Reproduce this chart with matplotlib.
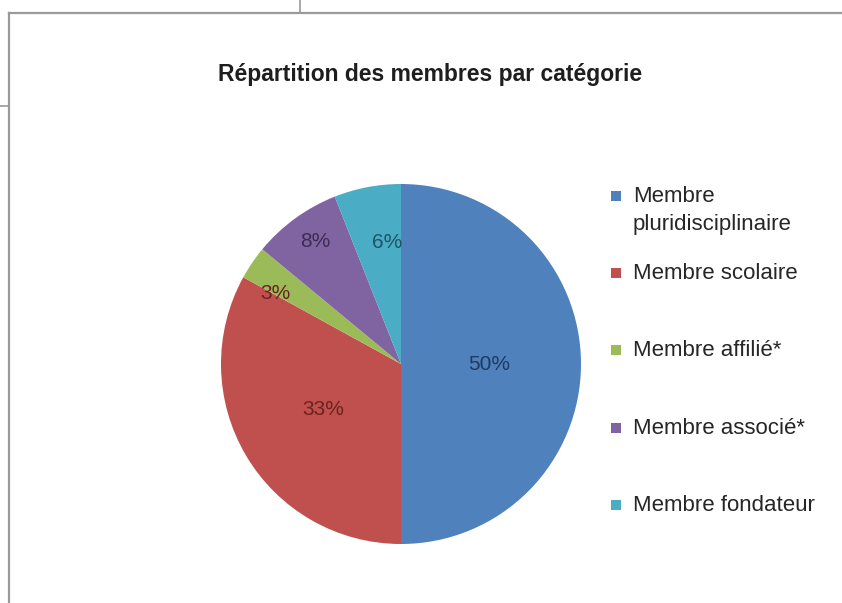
import matplotlib
matplotlib.use("Agg")
import numpy as np
from matplotlib import pyplot as plt
from matplotlib.lines import Line2D
from matplotlib.patches import Rectangle

plt.rcParams["font.family"] = ["Liberation Sans", "DejaVu Sans"]

# données du graphique
categories = ["Membre\npluridisciplinaire", "Membre scolaire", "Membre affilié*",
              "Membre associé*", "Membre fondateur"]
parts = [50, 33, 3, 8, 6]
title = "Répartition des membres par catégorie"

# style (couleurs Excel)
colors = ["#4F81BD", "#C0504D", "#9BBB59", "#8064A2", "#4BACC6"]
label_colors = ["#1F3A60", "#6A2220", "#6A2220", "#3C2C55", "#1E5566"]
label_dist = [0.49, 0.50, 0.80, 0.83, 0.68]
label_shift = [0, 0, 4.8, -0.8, -4.3]  # décalage angulaire des étiquettes (degrés)
legend_y = [196, 273, 350, 428, 505]      # position verticale des entrées (px)

fig = plt.figure(figsize=(8.42, 6.03), dpi=100)
W, H = 842, 603

# cadre gris autour du graphique
grey = "#9a9a9a"
fig.add_artist(Line2D([9 / W, 1], [1 - 13 / H, 1 - 13 / H], color=grey, lw=1.6))
fig.add_artist(Line2D([9 / W, 9 / W], [0, 1 - 13 / H], color=grey, lw=1.6))
fig.add_artist(Line2D([300 / W, 300 / W], [1 - 13 / H, 1], color=grey, lw=1.2))
fig.add_artist(Line2D([0, 9 / W], [1 - 106 / H, 1 - 106 / H], color=grey, lw=1.2))

# camembert
cx, cy, r = 401, 364, 180
ax = fig.add_axes([(cx - r) / W, (H - cy - r) / H, 2 * r / W, 2 * r / H])
wedges, texts, autotexts = ax.pie(parts, colors=colors, startangle=90, counterclock=False,
                                  autopct="%d%%", pctdistance=0.5,
                                  wedgeprops=dict(linewidth=0),
                                  textprops=dict(fontsize=15))
ax.set_xlim(-1, 1)
ax.set_ylim(-1, 1)
ax.set_aspect("equal")

for w, t, d, s, c in zip(wedges, autotexts, label_dist, label_shift, label_colors):
    ang = np.deg2rad((w.theta1 + w.theta2) / 2 + s)
    t.set_position((d * np.cos(ang), d * np.sin(ang)))
    t.set_color(c)

fig.text(430 / W, 1 - 75 / H, title, ha="center", va="center", fontsize=16.5,
         fontweight="bold", color="#1e1e1e")

# légende à droite
for lab, col, y in zip(categories, colors, legend_y):
    fig.add_artist(Rectangle((611 / W, 1 - (y + 5) / H), 10 / W, 10 / H,
                             facecolor=col, edgecolor="none"))
    fig.text(633 / W, 1 - (y - 10) / H, lab, ha="left", va="top", fontsize=16,
             color="#262626", linespacing=1.45)

fig.savefig("out.png", dpi=100)
